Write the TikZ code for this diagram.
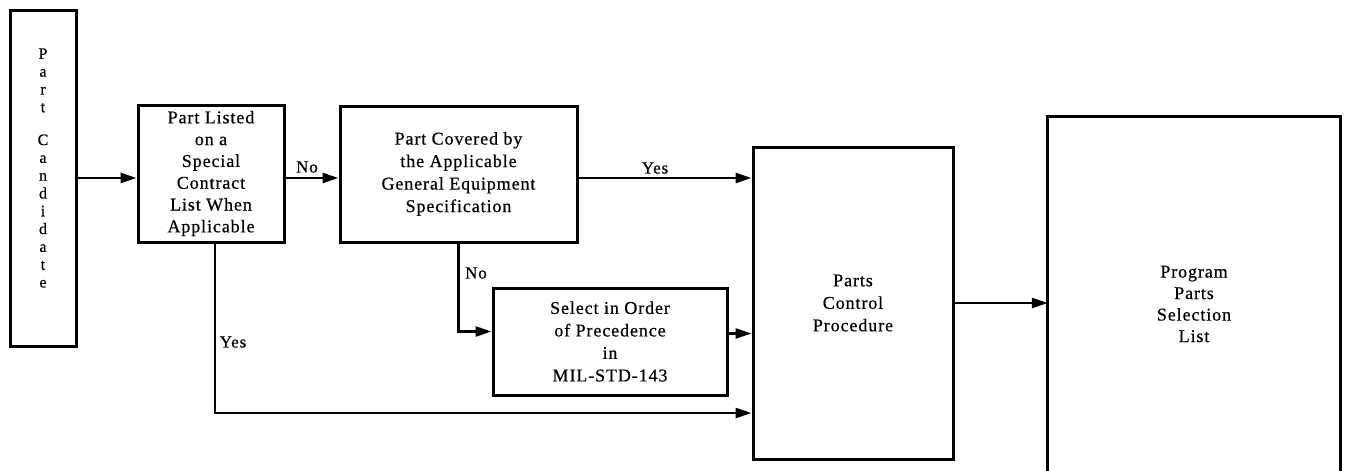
\documentclass[tikz,border=0pt]{standalone}
\usepackage{fontspec}
\setmainfont{Liberation Serif}[LetterSpace=5,FakeBold=0.6]
\usetikzlibrary{arrows.meta}
\begin{document}
\begin{tikzpicture}[x=1pt,y=-1pt,
  box/.style={draw,line width=3pt,inner sep=0pt,align=center,font=\fontsize{18}{22.5}\selectfont},
  txt/.style={inner sep=0pt,align=center,font=\fontsize{18}{22.5}\selectfont},
  arr/.style={line width=2.6pt,-{Triangle[length=16pt,width=10pt]}},
  edge/.style={line width=3pt},
  lbl/.style={font=\fontsize{17}{20}\selectfont,inner sep=0pt}]
\useasboundingbox (0,0) rectangle (1345,471);
% boxes
\node[box,minimum width=66pt,minimum height=336pt] (cand) at (43,178) {};
\node[txt,font=\fontsize{16}{17.8}\selectfont] (candtxt) at (43,168) {P\\a\\r\\t\\[15pt]C\\a\\n\\d\\i\\d\\a\\t\\e};
\node[box,minimum width=146pt,minimum height=137pt,font=\fontsize{18}{21.8}\selectfont] (list) at (211,173.5)
  {Part Listed\\on a\\Special\\Contract\\List When\\Applicable};
\node[box,minimum width=237pt,minimum height=136pt] (cover) at (458.5,174)
  {Part Covered by\\the Applicable\\General Equipment\\Specification};
\node[box,minimum width=234pt,minimum height=107pt] (sel) at (610,341.5)
  {Select in Order\\of Precedence\\in\\MIL-STD-143};
\node[box,minimum width=200pt,minimum height=312pt] (pc) at (853,303)
  {Parts\\Control\\Procedure};
\node[txt,minimum width=292pt,minimum height=374pt,font=\fontsize{18}{21.5}\selectfont] (prog) at (1194,304)
  {Program\\Parts\\Selection\\List};
\draw[edge] (prog.south west) -- (prog.north west) -- (prog.north east) -- (prog.south east);
% connectors
\coordinate (yb) at (0,413);
\draw[arr] (cand.east) -- (cand.east -| list.west);
\draw[arr] (cand.east -| list.east) -- (cand.east -| cover.west);
\draw[arr] (cand.east -| cover.east) -- (cand.east -| pc.west);
\draw[arr] (cover.south) |- ([yshift=10pt]sel.west);
\draw[arr] ([yshift=8pt]sel.east) -- ([yshift=8pt]sel.east -| pc.west);
\draw[arr] ([xshift=4pt]list.south) |- (yb -| pc.west);
\draw[arr] (pc.east) -- (pc.east -| prog.west);
% labels
\node[lbl] (lno) at (307,167) {No};
\node[lbl] (lyes) at (655,168) {Yes};
\node[lbl] (lno2) at (476,273) {No};
\node[lbl] (lyes2) at (233,342) {Yes};
\end{tikzpicture}
\end{document}
